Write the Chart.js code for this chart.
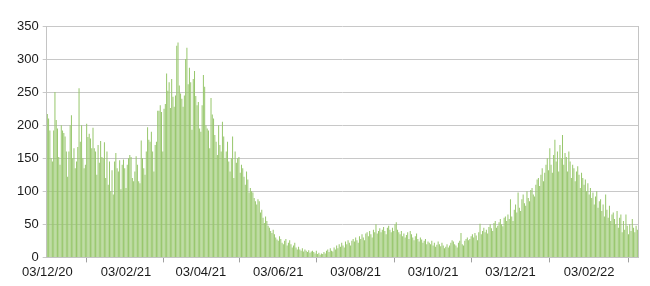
<!DOCTYPE html>
<html>
<head>
<meta charset="utf-8">
<script src="https://cdn.jsdelivr.net/npm/chart.js@4.4.1/dist/chart.umd.min.js"></script>
<style>
  html, body { margin: 0; padding: 0; background: #ffffff; }
  #wrap { width: 650px; height: 286px; position: relative; }
</style>
</head>
<body>
<div id="wrap"><canvas id="c" width="650" height="286"></canvas></div>
<script>
// Daily values, one array per month (first day: 03/12/2020)
const dec20 = [217,210,192,150,145,192,250,208,195,152,140,200,192,188,183,160,122,160,200,215,150,165,135,145,167,256,175,200,150];
const jan21 = [135,140,202,182,187,180,165,196,165,160,125,170,143,176,152,150,174,120,160,110,145,100,132,95,145,158,135,130,147,103,140];
const feb21 = [148,135,105,140,150,155,152,120,115,130,153,140,115,112,177,150,135,125,160,197,178,175,190,160,130,170,175,222];
const mar21 = [222,230,220,160,225,232,278,252,265,226,270,243,228,245,320,325,260,248,240,228,245,300,317,262,287,265,193,270,282,244,230];
const apr21 = [235,195,190,230,276,258,200,195,192,165,241,216,210,185,175,155,200,170,160,205,183,150,160,175,145,130,150,183,120,160];
const may21 = [143,150,152,128,140,135,122,110,130,118,98,105,100,98,90,85,80,88,85,68,72,60,52,62,55,48,45,40,37,42,35];
const jun21 = [30,27,25,32,28,22,20,25,28,18,22,26,20,15,18,22,15,12,16,12,10,14,9,12,10,8,11,7,9,10];
const jul21 = [8,6,10,5,7,4,6,5,8,6,10,12,8,14,10,9,15,12,18,14,20,16,22,18,15,24,20,26,22,18,25];
const aug21 = [28,24,30,26,22,32,28,35,30,26,36,38,32,40,35,30,42,38,50,36,40,44,38,42,46,40,35,45,48,42,38];
const sep21 = [45,40,50,53,42,38,35,40,32,36,30,34,38,28,40,35,30,26,32,36,28,24,30,27,22,25,28,20,24,22];
const oct21 = [20,25,18,22,16,19,24,20,17,22,18,14,16,20,15,18,22,26,24,20,18,15,22,25,37,20,18,25,28,30,26];
const nov21 = [28,32,35,30,37,33,26,38,51,35,40,45,38,42,36,46,50,44,40,52,55,45,48,53,58,50,47,60,62,55];
const dec21 = [65,58,88,62,55,72,80,68,98,75,70,88,95,82,78,100,90,85,102,105,95,92,110,118,120,108,125,135,115,128,140];
const jan22 = [150,132,165,140,128,155,178,145,160,130,170,150,185,140,158,152,130,160,145,120,140,135,115,130,138,125,105,128,120,110,118];
const feb22 = [100,112,95,105,90,98,80,92,100,75,85,88,70,80,62,95,72,60,78,55,65,68,58,50,70,45,60,65];
const mar22 = [38,55,42,65,48,35,50,40,58,45,38,48,42];

const tickLabels = ['03/12/20','03/02/21','03/04/21','03/06/21','03/08/21','03/10/21','03/12/21','03/02/22'];
const startDate = { y: 2020, m: 11, d: 3 };
const yTicks = { min: 0, max: 350, step: 50 };

const values = [].concat(dec20, jan21, feb21, mar21, apr21, may21, jun21, jul21, aug21, sep21, oct21, nov21, dec21, jan22, feb22, mar22);

// category labels: consecutive dates dd/mm/yy
const pad = n => String(n).padStart(2, '0');
const categories = values.map((_, i) => {
  const dt = new Date(Date.UTC(startDate.y, startDate.m, startDate.d + i));
  return pad(dt.getUTCDate()) + '/' + pad(dt.getUTCMonth() + 1) + '/' + String(dt.getUTCFullYear()).slice(2);
});

const frame = {
  id: 'frame',
  afterDraw(chart) {
    const { ctx, chartArea: a } = chart;
    ctx.save();
    ctx.strokeStyle = '#c4c4c4';
    ctx.lineWidth = 1;
    ctx.beginPath();
    ctx.moveTo(Math.round(a.right) + 0.5, a.top);
    ctx.lineTo(Math.round(a.right) + 0.5, a.bottom);
    ctx.stroke();
    ctx.restore();
  }
};

const font = { family: '"Liberation Sans", Arial, sans-serif', size: 13 };

new Chart(document.getElementById('c'), {
  type: 'bar',
  data: {
    labels: categories,
    datasets: [{
      data: values,
      backgroundColor: '#98c76d',
      borderWidth: 0,
      barPercentage: 0.8,
      categoryPercentage: 1.0
    }]
  },
  options: {
    responsive: false,
    animation: false,
    events: [],
    layout: { padding: { top: 26, right: 12, left: 13, bottom: 4 } },
    plugins: { legend: { display: false }, tooltip: { enabled: false } },
    scales: {
      x: {
        offset: true,
        grid: { display: true, drawOnChartArea: false, drawTicks: true, tickLength: 5, color: '#a0a0a0' },
        border: { display: true, color: '#c4c4c4' },
        ticks: {
          autoSkip: false,
          maxRotation: 0,
          minRotation: 0,
          padding: 2,
          color: '#1a1a1a',
          font: font,
          callback: function (val, idx) {
            const lab = this.getLabelForValue(val);
            return tickLabels.includes(lab) ? lab : null;
          }
        }
      },
      y: {
        min: yTicks.min,
        max: yTicks.max,
        grid: { color: '#c8c8c8', tickLength: 4 },
        border: { display: true, color: '#c4c4c4' },
        ticks: { stepSize: yTicks.step, padding: 4, color: '#1a1a1a', font: font }
      }
    }
  },
  plugins: [frame]
});
</script>
</body>
</html>
